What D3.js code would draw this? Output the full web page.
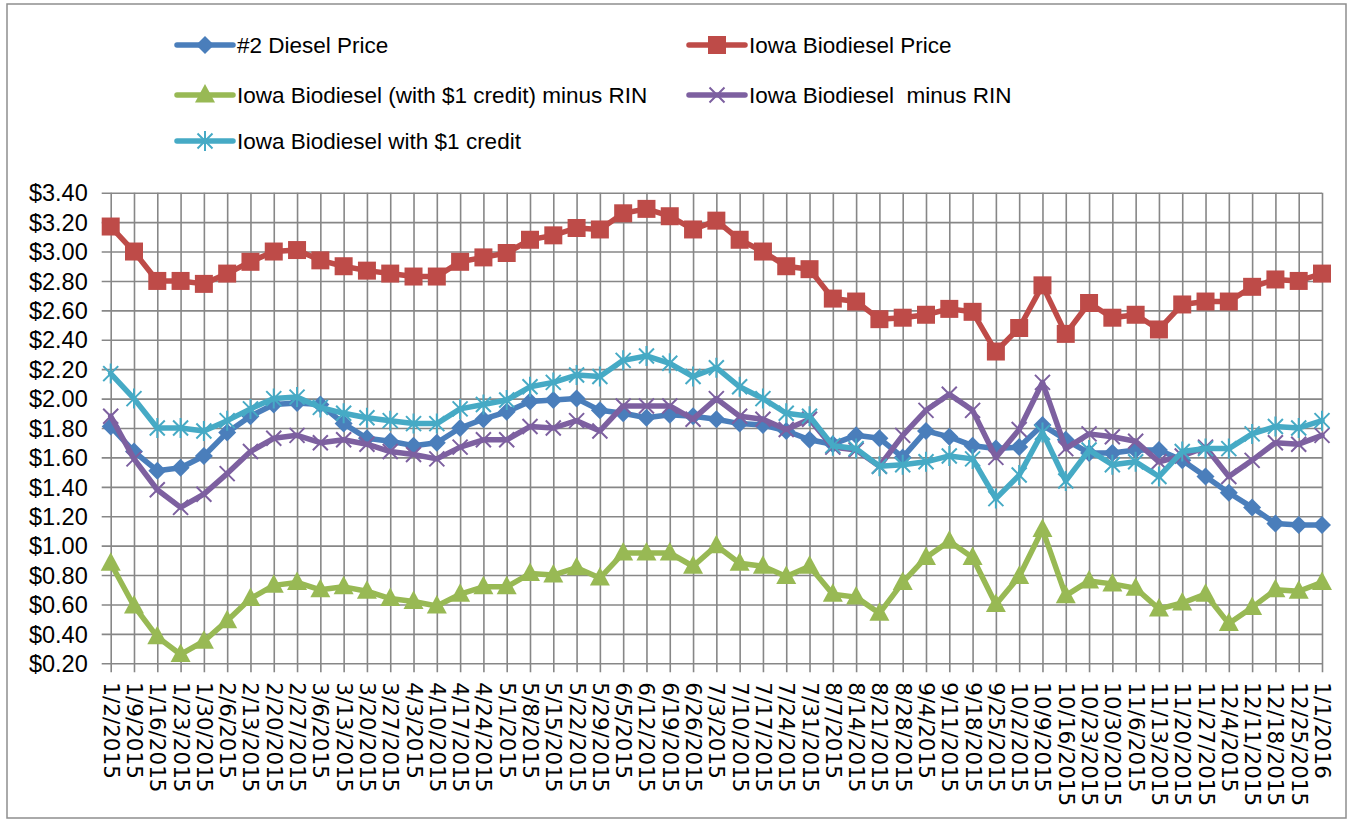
<!DOCTYPE html>
<html>
<head>
<meta charset="utf-8">
<script src="https://cdn.jsdelivr.net/npm/d3@7"></script>
<style>
  html, body { margin: 0; padding: 0; background: #fff; }
  svg { display: block; }
</style>
</head>
<body>
<svg id="chart" width="1353" height="823"></svg>
<script>
const dates = ["1/2/2015","1/9/2015","1/16/2015","1/23/2015","1/30/2015","2/6/2015","2/13/2015","2/20/2015","2/27/2015","3/6/2015","3/13/2015","3/20/2015","3/27/2015","4/3/2015","4/10/2015","4/17/2015","4/24/2015","5/1/2015","5/8/2015","5/15/2015","5/22/2015","5/29/2015","6/5/2015","6/12/2015","6/19/2015","6/26/2015","7/3/2015","7/10/2015","7/17/2015","7/24/2015","7/31/2015","8/7/2015","8/14/2015","8/21/2015","8/28/2015","9/4/2015","9/11/2015","9/18/2015","9/25/2015","10/2/2015","10/9/2015","10/16/2015","10/23/2015","10/30/2015","11/6/2015","11/13/2015","11/20/2015","11/27/2015","12/4/2015","12/11/2015","12/18/2015","12/25/2015","1/1/2016"];

const dieselPrice = [1.81,1.64,1.51,1.53,1.61,1.77,1.88,1.96,1.97,1.96,1.83,1.73,1.71,1.68,1.70,1.80,1.86,1.91,1.98,1.99,2.00,1.92,1.90,1.87,1.89,1.88,1.86,1.83,1.82,1.78,1.72,1.69,1.75,1.73,1.60,1.78,1.74,1.68,1.66,1.67,1.82,1.72,1.63,1.63,1.65,1.65,1.58,1.47,1.36,1.26,1.15,1.14,1.14];

const biodieselPrice = [3.17,3.00,2.80,2.80,2.78,2.85,2.93,3.00,3.01,2.94,2.90,2.87,2.85,2.83,2.83,2.93,2.96,2.99,3.08,3.11,3.16,3.15,3.26,3.29,3.24,3.15,3.21,3.08,3.00,2.90,2.88,2.68,2.66,2.54,2.55,2.57,2.61,2.59,2.32,2.48,2.77,2.44,2.65,2.55,2.57,2.47,2.64,2.66,2.66,2.76,2.81,2.80,2.85];

const creditMinusRin = [0.88,0.59,0.38,0.26,0.35,0.49,0.64,0.73,0.75,0.70,0.72,0.69,0.64,0.62,0.59,0.67,0.72,0.72,0.81,0.80,0.85,0.78,0.95,0.95,0.95,0.86,1.00,0.88,0.86,0.79,0.86,0.67,0.65,0.54,0.75,0.92,1.03,0.92,0.60,0.79,1.11,0.66,0.76,0.74,0.71,0.57,0.61,0.67,0.47,0.58,0.70,0.69,0.75];

const minusRin = [1.88,1.59,1.38,1.26,1.35,1.49,1.64,1.73,1.75,1.70,1.72,1.69,1.64,1.62,1.59,1.67,1.72,1.72,1.81,1.80,1.85,1.78,1.95,1.95,1.95,1.86,2.00,1.88,1.86,1.79,1.86,1.67,1.65,1.54,1.75,1.92,2.03,1.92,1.60,1.79,2.11,1.66,1.76,1.74,1.71,1.57,1.61,1.67,1.47,1.58,1.70,1.69,1.75];

const withCredit = [2.17,2.00,1.80,1.80,1.78,1.85,1.93,2.00,2.01,1.94,1.90,1.87,1.85,1.83,1.83,1.93,1.96,1.99,2.08,2.11,2.16,2.15,2.26,2.29,2.24,2.15,2.21,2.08,2.00,1.90,1.88,1.68,1.66,1.54,1.55,1.57,1.61,1.59,1.32,1.48,1.77,1.44,1.65,1.55,1.57,1.47,1.64,1.66,1.66,1.76,1.81,1.80,1.85];

const seriesNames = ["#2 Diesel Price","Iowa Biodiesel Price","Iowa Biodiesel (with $1 credit) minus RIN","Iowa Biodiesel  minus RIN","Iowa Biodiesel with $1 credit"];
const yTicks = [0.2,0.4,0.6,0.8,1.0,1.2,1.4,1.6,1.8,2.0,2.2,2.4,2.6,2.8,3.0,3.2,3.4];

const series = [
  {name: seriesNames[0], values: dieselPrice, color: "#4A7EBB", marker: "diamond"},
  {name: seriesNames[1], values: biodieselPrice, color: "#BE4B48", marker: "square"},
  {name: seriesNames[2], values: creditMinusRin, color: "#98B954", marker: "triangle"},
  {name: seriesNames[3], values: minusRin, color: "#7D60A0", marker: "x"},
  {name: seriesNames[4], values: withCredit, color: "#46AAC5", marker: "star"}
];

const svg = d3.select("#chart");
const plotLeft = 110.7, plotRight = 1322, plotTop = 192.7, plotBottom = 663.3;
const gridColor = "#878787";

// outer frame
svg.append("rect").attr("x", 7).attr("y", 4).attr("width", 1339).attr("height", 814)
  .attr("fill", "none").attr("stroke", "#8e8e8e").attr("stroke-width", 1.5);

const x = d3.scalePoint().domain(dates).range([plotLeft, plotRight]);
const y = d3.scaleLinear().domain([0.2, 3.4]).range([plotBottom, plotTop]);

// horizontal gridlines + y axis
const yAxis = d3.axisLeft(y).tickValues(yTicks).tickSize(-(plotRight - plotLeft)).tickSizeOuter(0)
  .tickFormat(d => "$" + d.toFixed(2));
const gy = svg.append("g").attr("transform", `translate(${plotLeft},0)`).call(yAxis);
gy.select(".domain").remove();
gy.selectAll(".tick line").attr("x1", -9).attr("stroke", gridColor).attr("stroke-width", 1.6);
gy.selectAll(".tick text").attr("x", -23).attr("font-family", "Liberation Sans, Arial, sans-serif")
  .attr("font-size", 23.5).attr("fill", "#000").attr("dy", "0.35em");

// vertical gridlines + x axis
const xAxis = d3.axisBottom(x).tickSize(-(plotBottom - plotTop)).tickSizeOuter(0);
const gx = svg.append("g").attr("transform", `translate(0,${plotBottom})`).call(xAxis);
gx.select(".domain").remove();
gx.selectAll(".tick line").attr("y1", 9).attr("stroke", gridColor).attr("stroke-width", 1.6);
gx.selectAll(".tick text")
  .attr("font-family", "DejaVu Sans, sans-serif").attr("font-size", 21.5).attr("fill", "#000")
  .attr("text-anchor", "start").attr("dy", null)
  .attr("transform", "translate(0,19) rotate(90)")
  .attr("x", 0).attr("y", 0).attr("dominant-baseline", "central");

function markerPath(type) {
  switch (type) {
    case "diamond": return "M0,-9L9,0L0,9L-9,0Z";
    case "square": return "M-9,-9H9V9H-9Z";
    case "triangle": return "M0,-11L10,7.5L-10,7.5Z";
    case "x": return "M-7.5,-7.5L7.5,7.5M7.5,-7.5L-7.5,7.5";
    case "star": return "M-7.5,-7.5L7.5,7.5M7.5,-7.5L-7.5,7.5M0,-10L0,10";
  }
}
const filled = t => t === "diamond" || t === "square" || t === "triangle";

const line = d3.line().x((d, i) => x(dates[i])).y(d => y(d));

series.forEach(s => {
  const g = svg.append("g");
  g.append("path").datum(s.values).attr("d", line)
    .attr("fill", "none").attr("stroke", s.color).attr("stroke-width", 5.5)
    .attr("stroke-linejoin", "round").attr("stroke-linecap", "round");
  g.selectAll("path.m").data(s.values).enter().append("path").attr("class", "m")
    .attr("transform", (d, i) => `translate(${x(dates[i])},${y(d)})`)
    .attr("d", markerPath(s.marker))
    .attr("fill", filled(s.marker) ? s.color : "none")
    .attr("stroke", s.color)
    .attr("stroke-width", filled(s.marker) ? 0 : 2);
});

// legend
const legendPos = [
  {lx: 177, ly: 45}, {lx: 689, ly: 45},
  {lx: 177, ly: 95}, {lx: 689, ly: 95},
  {lx: 177, ly: 141}
];
series.forEach((s, i) => {
  const p = legendPos[i];
  const g = svg.append("g").attr("transform", `translate(${p.lx},${p.ly})`);
  g.append("line").attr("x1", 0).attr("x2", 56).attr("y1", 0).attr("y2", 0)
    .attr("stroke", s.color).attr("stroke-width", 5.5).attr("stroke-linecap", "round");
  g.append("path").attr("transform", "translate(28,0)").attr("d", markerPath(s.marker))
    .attr("fill", filled(s.marker) ? s.color : "none").attr("stroke", s.color)
    .attr("stroke-width", filled(s.marker) ? 0 : 2);
  g.append("text").attr("x", 60).attr("y", 0).attr("dy", "0.35em")
    .attr("font-family", "Liberation Sans, Arial, sans-serif").attr("font-size", 22.5)
    .style("white-space", "pre").attr("xml:space", "preserve")
    .attr("fill", "#000").text(s.name);
});
</script>
</body>
</html>
